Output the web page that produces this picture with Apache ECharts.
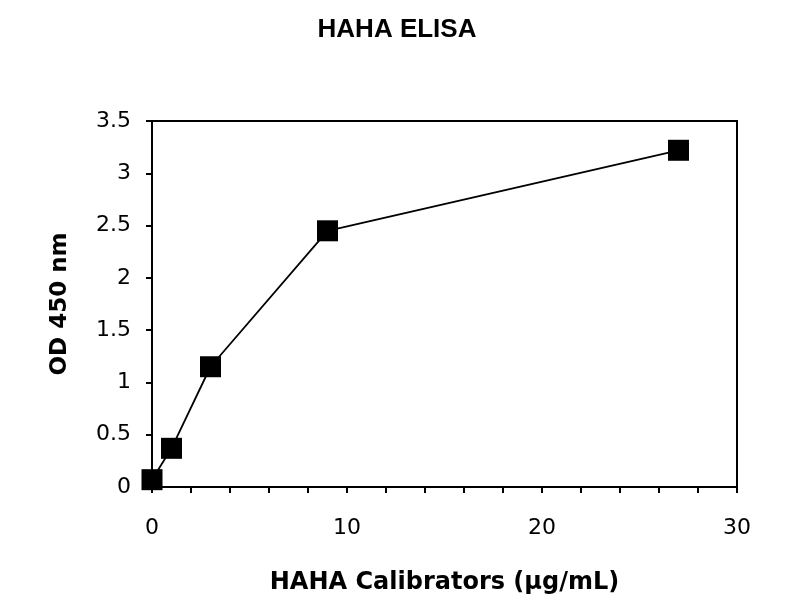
<!DOCTYPE html>
<html>
<head>
<meta charset="utf-8">
<script src="https://cdn.jsdelivr.net/npm/echarts@6/dist/echarts.min.js"></script>
<style>html,body{margin:0;padding:0;background:#fff}#c{width:800px;height:600px}</style>
</head>
<body>
<div id="c"></div>
<script>
const calibrators = [0, 1, 3, 9, 27];
const od450 = [0.07, 0.37, 1.15, 2.45, 3.22];
const titleText = 'HAHA ELISA';
const xName = 'HAHA Calibrators (µg/mL)';
const yName = 'OD 450 nm';

const chart = echarts.init(document.getElementById('c'));
const tfont = 'Liberation Sans, Arial, sans-serif';
const font = 'DejaVu Sans, sans-serif';
chart.setOption({
  animation: false,
  backgroundColor: '#fff',
  title: {
    text: titleText, left: 392, top: 12, textAlign: 'center',
    textStyle: {fontFamily: tfont, fontSize: 26, fontWeight: 'bold', color: '#000'}
  },
  grid: {left: 152, right: 63, top: 121, bottom: 110, show: true, borderColor: '#000', borderWidth: 2, backgroundColor: '#fff'},
  xAxis: {
    type: 'value', min: 0, max: 30, interval: 10,
    name: xName, nameLocation: 'middle', nameGap: 84,
    nameTextStyle: {fontFamily: font, fontSize: 24, fontWeight: 'bold', color: '#000'},
    axisLine: {show: true, lineStyle: {color: '#000', width: 2}},
    axisTick: {show: true, length: 6, lineStyle: {color: '#000', width: 2}},
    minorTick: {show: true, splitNumber: 5, length: 6, lineStyle: {color: '#000', width: 2}},
    splitLine: {show: false},
    axisLabel: {fontFamily: font, fontSize: 22, color: '#000', margin: 30}
  },
  yAxis: {
    type: 'value', min: 0, max: 3.5, interval: 0.5,
    name: yName, nameLocation: 'middle', nameGap: 80,
    nameTextStyle: {fontFamily: font, fontSize: 23, fontWeight: 'bold', color: '#000'},
    axisLine: {show: true, lineStyle: {color: '#000', width: 2}},
    axisTick: {show: true, length: 6, lineStyle: {color: '#000', width: 2}},
    splitLine: {show: false},
    axisLabel: {fontFamily: font, fontSize: 22, color: '#000', margin: 21}
  },
  series: [{
    type: 'line',
    data: calibrators.map((x, i) => [x, od450[i]]),
    symbol: 'rect', symbolSize: 21,
    itemStyle: {color: '#000'},
    lineStyle: {color: '#000', width: 1.8}
  }]
});
</script>
</body>
</html>
